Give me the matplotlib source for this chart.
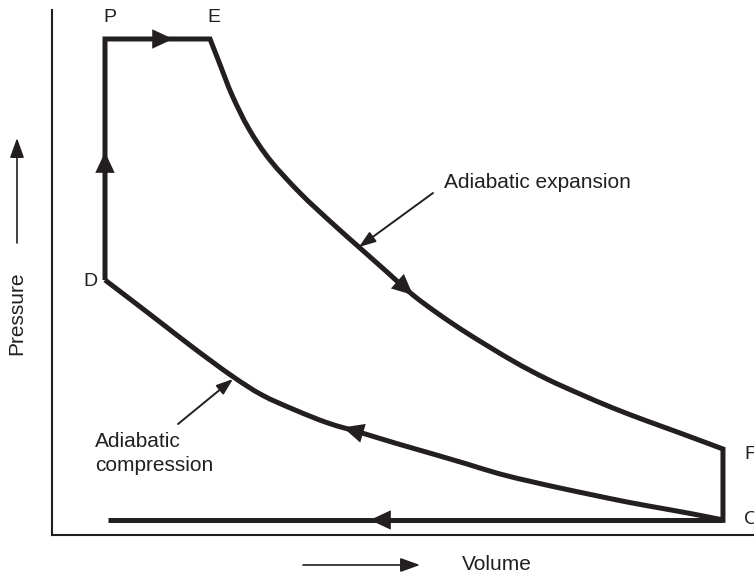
import matplotlib.pyplot as plt
from matplotlib.path import Path
from matplotlib.patches import PathPatch

plt.rcParams.update({'font.family': ['Liberation Sans', 'DejaVu Sans'], 'font.size': 15})

INK = '#231f20'

# Corner states of the cycle (volume, pressure) in arbitrary units
state_names = ['P', 'E', 'F', 'C', 'D']
state_v = [0.755, 2.251, 9.558, 9.558, 0.755]
state_p = [9.448, 9.448, 1.638, 0.286, 4.857]

# Adiabatic expansion E -> F
exp_v = [2.251, 2.379, 2.564, 2.806, 3.105, 3.533, 4.003, 4.387, 4.772, 5.142,
         5.527, 5.954, 6.567, 7.051, 7.521, 7.991, 8.476, 8.946, 9.558]
exp_p = [9.448, 9.010, 8.381, 7.733, 7.143, 6.514, 5.924, 5.467, 5.010, 4.571,
         4.190, 3.810, 3.314, 2.971, 2.686, 2.419, 2.171, 1.943, 1.638]

# Adiabatic compression C -> D
comp_v = [9.558, 9.131, 8.661, 8.191, 7.707, 7.236, 6.852, 6.382, 5.912, 5.427,
          4.886, 4.416, 3.932, 3.462, 2.991, 2.564, 2.037, 1.538, 1.111, 0.755]
comp_p = [0.286, 0.400, 0.514, 0.629, 0.762, 0.895, 1.010, 1.162, 1.352, 1.543,
          1.752, 1.943, 2.133, 2.381, 2.667, 3.029, 3.543, 4.057, 4.495, 4.857]

# Exhaust line from C back to the left
exhaust_v = [9.558, 0.798]
exhaust_p = [0.286, 0.286]


def smooth_segments(xs, ys):
    # Catmull-Rom through the read points, as cubic bezier pieces
    verts, codes = [], []
    n = len(xs)
    for i in range(n - 1):
        x0, y0 = xs[max(i - 1, 0)], ys[max(i - 1, 0)]
        x1, y1 = xs[i], ys[i]
        x2, y2 = xs[i + 1], ys[i + 1]
        x3, y3 = xs[min(i + 2, n - 1)], ys[min(i + 2, n - 1)]
        verts += [(x1 + (x2 - x0) / 6, y1 + (y2 - y0) / 6),
                  (x2 - (x3 - x1) / 6, y2 - (y3 - y1) / 6),
                  (x2, y2)]
        codes += [Path.CURVE4] * 3
    return verts, codes


def head(ax, tail, tip, hl=15, hw=7):
    ax.annotate('', xy=tip, xytext=tail,
                arrowprops=dict(arrowstyle=f'-|>,head_length={hl},head_width={hw}',
                                mutation_scale=1, color=INK, lw=0,
                                shrinkA=0, shrinkB=0))


def pointer(ax, tail, tip):
    ax.annotate('', xy=tip, xytext=tail,
                arrowprops=dict(arrowstyle='-|>,head_length=10,head_width=3.6',
                                mutation_scale=1, color=INK, lw=1.4,
                                shrinkA=0, shrinkB=0))


def lerp(a, b, t):
    return (a[0] + (b[0] - a[0]) * t, a[1] + (b[1] - a[1]) * t)


def main():
    fig = plt.figure(figsize=(7.54, 5.78), dpi=100)
    ax = fig.add_axes([52 / 754, 1 - 535 / 578, 702 / 754, 525 / 578])
    ax.set_xlim(0, 10)
    ax.set_ylim(0, 10)
    for s in ['top', 'right']:
        ax.spines[s].set_visible(False)
    for s in ['left', 'bottom']:
        ax.spines[s].set_linewidth(1.5)
        ax.spines[s].set_color(INK)
    ax.set_xticks([])
    ax.set_yticks([])

    pts = dict(zip(state_names, zip(state_v, state_p)))

    # the cycle D -> P -> E ~> F -> C ~> D as one path, sharp corners kept
    verts = [pts['D'], pts['P'], pts['E']]
    codes = [Path.MOVETO, Path.LINETO, Path.LINETO]
    v, c = smooth_segments(exp_v, exp_p)
    verts += v
    codes += c
    verts.append(pts['C'])
    codes.append(Path.LINETO)
    v, c = smooth_segments(comp_v, comp_p)
    verts += v
    codes += c
    ax.add_patch(PathPatch(Path(verts, codes), fill=False, edgecolor=INK, lw=3.6,
                           joinstyle='miter', capstyle='butt'))
    ax.plot(exhaust_v, exhaust_p, color=INK, lw=3.6, solid_capstyle='butt')

    # direction arrows on the cycle
    head(ax, pts['P'], lerp(pts['P'], pts['E'], 0.648))
    head(ax, pts['D'], lerp(pts['D'], pts['P'], 0.531))
    c0 = (exhaust_v[0], exhaust_p[0])
    head(ax, c0, lerp(c0, (exhaust_v[1], exhaust_p[1]), 0.574))
    head(ax, (exp_v[8], exp_p[8]), (exp_v[9], exp_p[9]))
    a, b = (comp_v[11], comp_p[11]), (comp_v[12], comp_p[12])
    head(ax, a, lerp(a, b, 0.56))

    # state letters
    offsets = {'P': (3.6, 15.5, 'center'), 'E': (2.9, 15.5, 'center'),
               'D': (-10.8, -1.4, 'center'), 'F': (15.5, -4.3, 'left'),
               'C': (15.5, 0, 'left')}
    for name in state_names:
        dx, dy, ha = offsets[name]
        ax.annotate(name, xy=pts[name], xytext=(dx, dy), textcoords='offset points',
                    ha=ha, va='center', fontsize=14, color=INK)

    # process annotations
    ax.text(5.584, 6.705, 'Adiabatic expansion', ha='left', va='center', color=INK)
    pointer(ax, (5.427, 6.514), (4.373, 5.486))
    ax.text(0.613, 1.552, 'Adiabatic\ncompression', ha='left', va='center',
            color=INK, linespacing=1.3)
    pointer(ax, (1.795, 2.114), (2.578, 2.971))

    # axis labels with their arrows
    fig.text(17 / 754, 1 - 313 / 578, 'Pressure', rotation=90, ha='center',
             va='center', color=INK)
    fig.text(462 / 754, 1 - 565 / 578, 'Volume', ha='left', va='center', color=INK)
    arrow = dict(arrowstyle='-|>,head_length=12,head_width=4.3', mutation_scale=1,
                 color=INK, lw=1.2, shrinkA=0, shrinkB=0)
    fig.add_artist(plt.Annotation('', xy=(17 / 754, 1 - 138 / 578),
                                  xytext=(17 / 754, 1 - 243 / 578),
                                  xycoords='figure fraction', arrowprops=arrow))
    fig.add_artist(plt.Annotation('', xy=(420 / 754, 1 - 565 / 578),
                                  xytext=(303 / 754, 1 - 565 / 578),
                                  xycoords='figure fraction', arrowprops=arrow))

    fig.savefig('out.png', dpi=100)


if __name__ == '__main__':
    main()
